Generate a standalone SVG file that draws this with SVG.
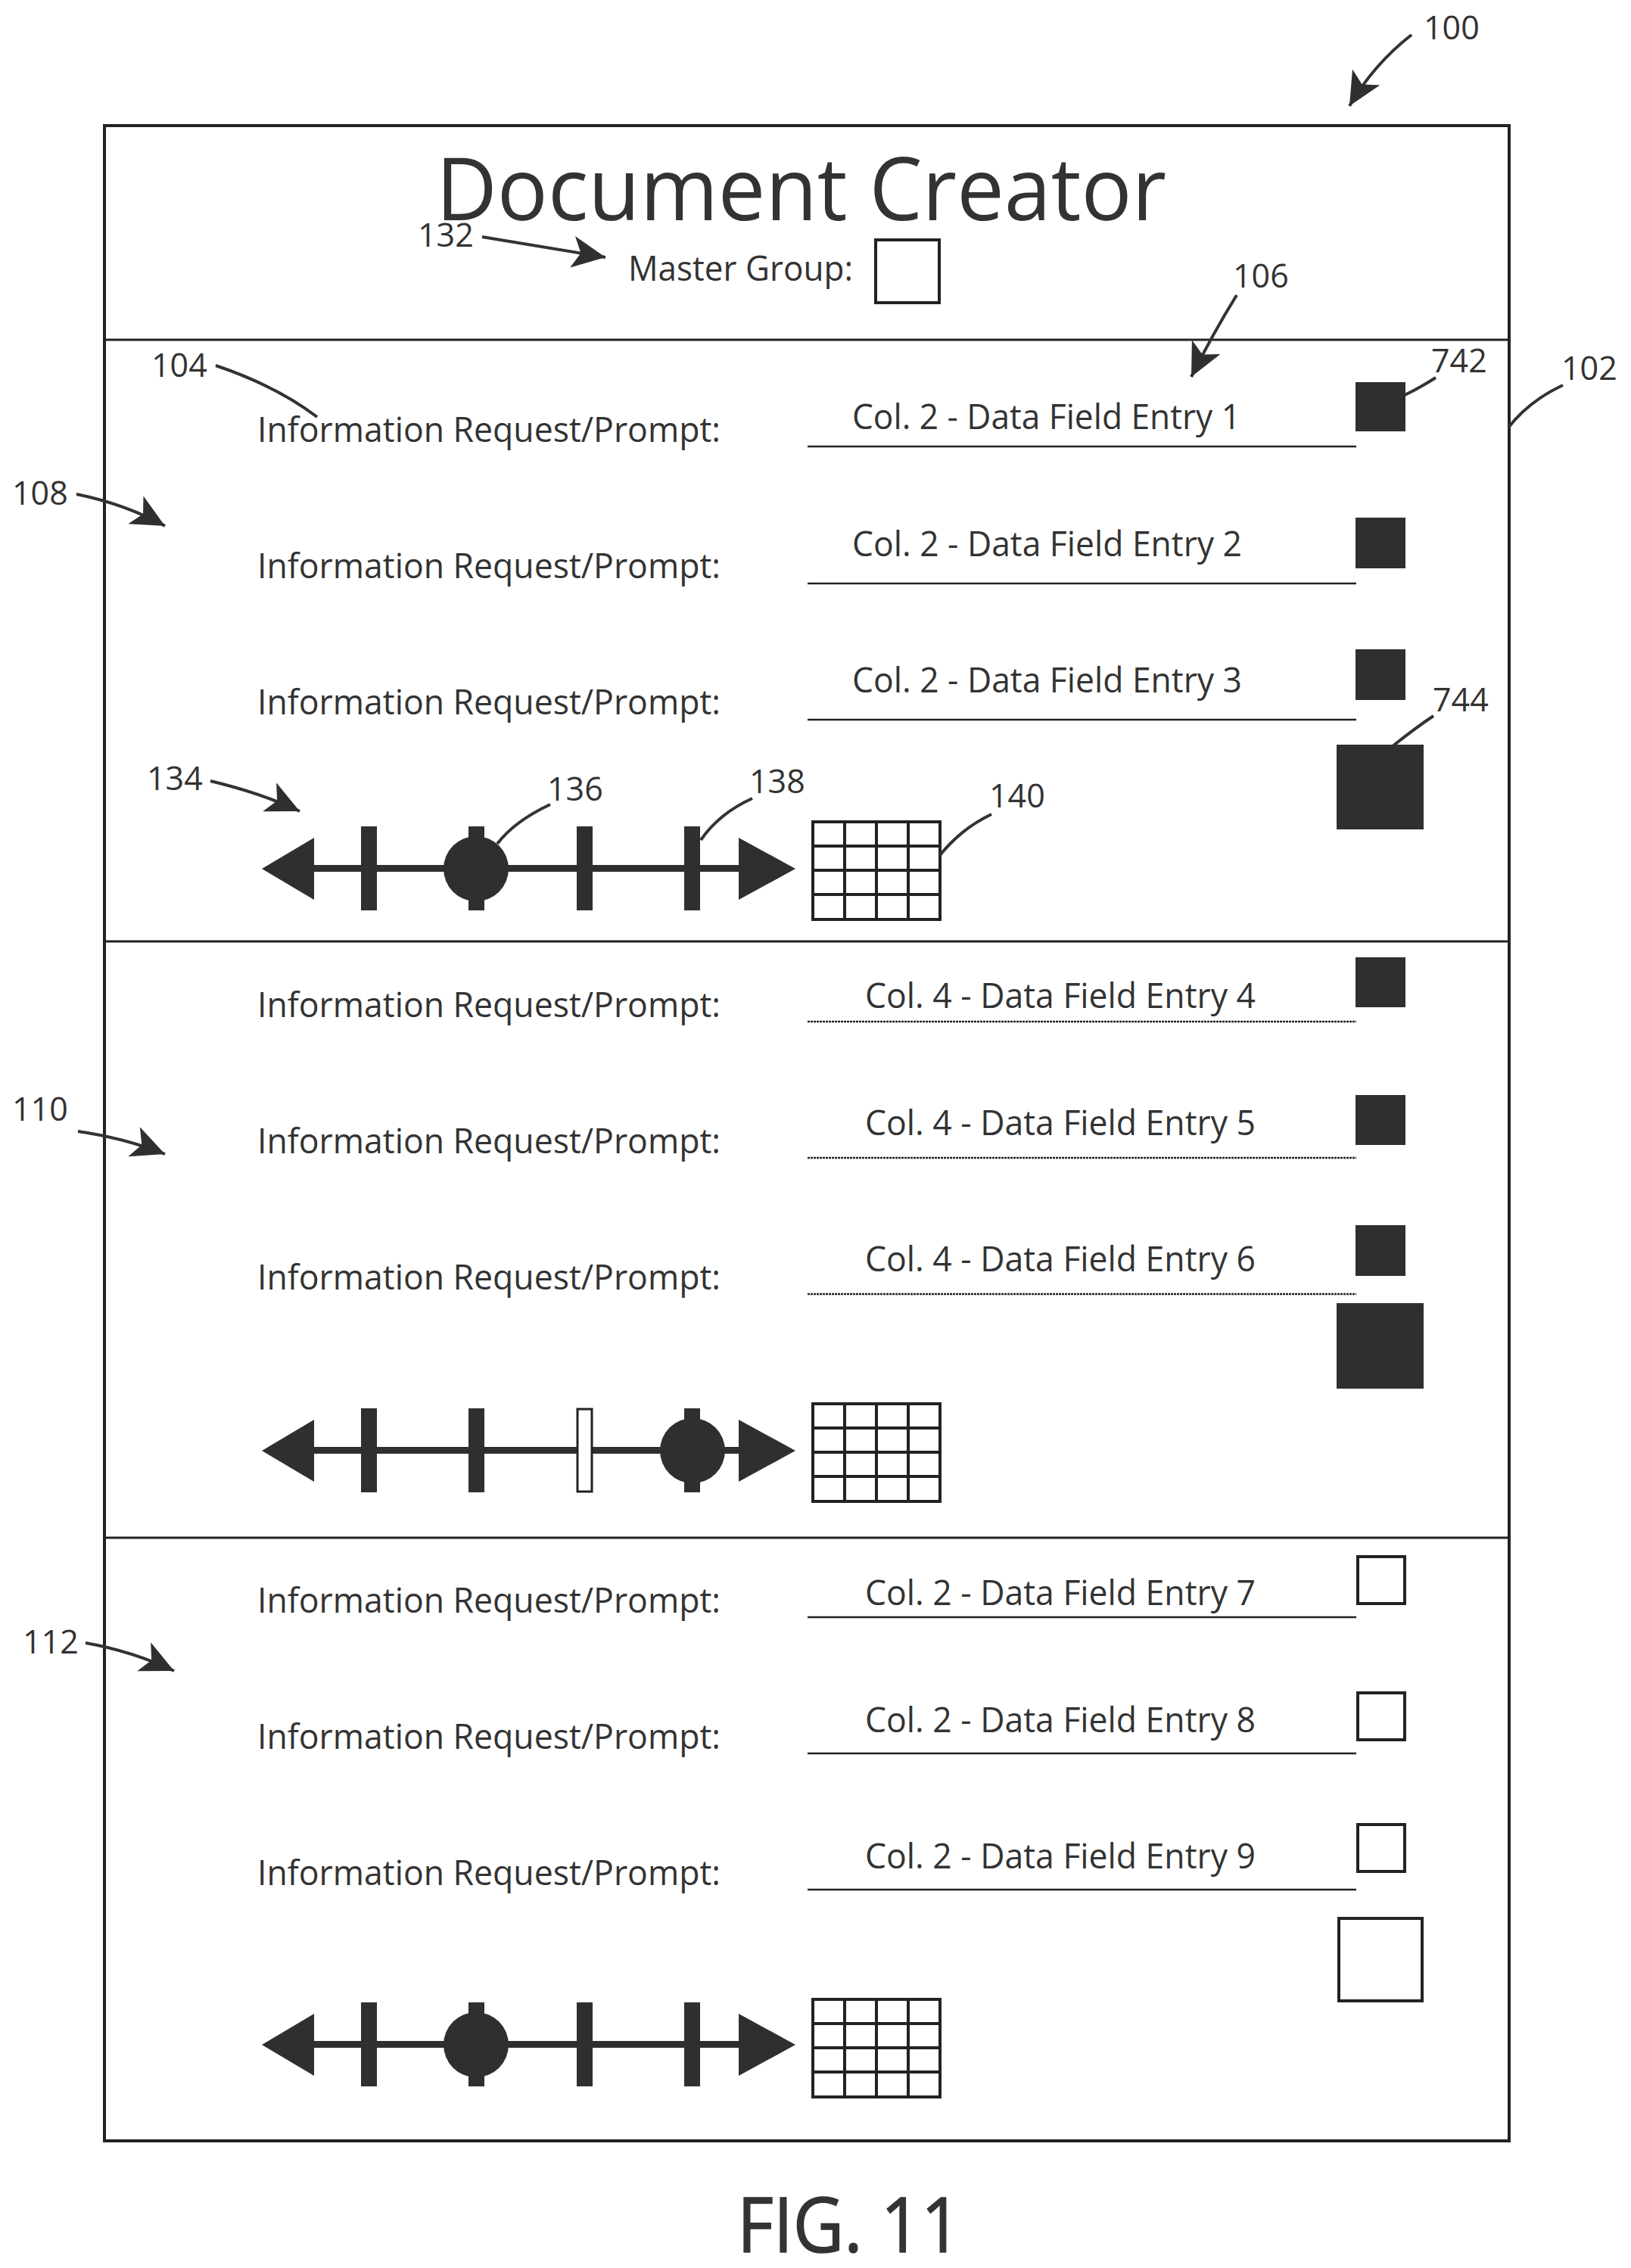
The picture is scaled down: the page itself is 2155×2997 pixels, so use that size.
<svg xmlns="http://www.w3.org/2000/svg" xmlns:xlink="http://www.w3.org/1999/xlink" width="2155" height="2997" viewBox="0 0 2155 2997">
<style>
text{font-family:"Open Sans","Liberation Sans",sans-serif;fill:#333}
.p,.c{font-size:45px}
.n{font-size:43px}
.b{fill:#fff;stroke:#222;stroke-width:4}
.s{fill:#2f2f2f}
.w{fill:#fff;stroke:#222;stroke-width:3}
.l{fill:none;stroke:#222;stroke-width:2.5}
.h{fill:none;stroke:#222;stroke-width:3}
.g{fill:none;stroke:#222;stroke-width:4}
.ld{fill:none;stroke:#333;stroke-width:4}
.ar{fill:none;stroke:#333;stroke-width:4;marker-end:url(#ah)}
</style>
<defs>
<marker id="ah" markerUnits="userSpaceOnUse" markerWidth="46" markerHeight="46" viewBox="0 0 46 46" refX="44" refY="23" orient="auto"><polygon points="44,23 0,2 11,23 0,44" fill="#2f2f2f"/></marker>
<g id="arrows">
<rect x="400" y="-5" width="600" height="9" class="s"/>
<polygon points="346,0 415,-41 415,41" class="s"/>
<polygon points="1051,0 976,-41 976,41" class="s"/>
</g>
<g id="grid">
<rect x="1075" y="-62" width="168" height="129" class="g"/>
<path d="M1117,-62V67M1159,-62V67M1201,-62V67M1075,-30H1243M1075,2H1243M1075,34H1243" class="g"/>
</g>
</defs>
<rect width="2155" height="2997" fill="#fff"/>

<g id="frame">
<rect x="138" y="166" width="1856" height="2663" class="b" fill="none"/>
<path d="M138,449H1994M138,1244H1994M138,2032H1994" class="h"/>
</g>

<g id="title">
<text x="576" y="291" font-size="116" textLength="965" lengthAdjust="spacingAndGlyphs">Document Creator</text>
</g>
<g id="master-group">
<text class="p" x="830" y="371" textLength="297" lengthAdjust="spacingAndGlyphs">Master Group:</text>
<rect x="1157" y="317" width="84" height="83" class="b"/>
</g>

<g id="section-108">
<g id="row-1"><text class="p" x="340" y="584" textLength="612" lengthAdjust="spacingAndGlyphs">Information Request/Prompt:</text><text class="c" x="1126" y="567" textLength="513" lengthAdjust="spacingAndGlyphs">Col. 2 - Data Field Entry 1</text><path class="l" d="M1067,590H1792"/><rect class="s" x="1791" y="505" width="66" height="65"/></g>
<g id="row-2"><text class="p" x="340" y="764" textLength="612" lengthAdjust="spacingAndGlyphs">Information Request/Prompt:</text><text class="c" x="1126" y="735" textLength="515" lengthAdjust="spacingAndGlyphs">Col. 2 - Data Field Entry 2</text><path class="l" d="M1067,771H1792"/><rect class="s" x="1791" y="684" width="66" height="67"/></g>
<g id="row-3"><text class="p" x="340" y="944" textLength="612" lengthAdjust="spacingAndGlyphs">Information Request/Prompt:</text><text class="c" x="1126" y="915" textLength="515" lengthAdjust="spacingAndGlyphs">Col. 2 - Data Field Entry 3</text><path class="l" d="M1067,951H1792"/><rect class="s" x="1791" y="858" width="66" height="67"/></g>
<rect id="big-1" class="s" x="1766" y="984" width="115" height="112"/>
<g id="slider-1" transform="translate(0,1148)">
<use href="#arrows" xlink:href="#arrows"/>
<rect class="s" x="477" y="-56" width="21" height="111"/><rect class="s" x="619" y="-56" width="21" height="111"/><rect class="s" x="762" y="-56" width="21" height="111"/><rect class="s" x="904" y="-56" width="21" height="111"/>
<ellipse class="s" cx="629" cy="0" rx="43" ry="43"/>
</g>
<use id="grid-1" href="#grid" xlink:href="#grid" transform="translate(-1,1148)"/>
</g>

<g id="section-110">
<g id="row-4"><text class="p" x="340" y="1344" textLength="612" lengthAdjust="spacingAndGlyphs">Information Request/Prompt:</text><text class="c" x="1143" y="1332" textLength="516" lengthAdjust="spacingAndGlyphs">Col. 4 - Data Field Entry 4</text><path class="l" d="M1067,1350H1792" stroke-dasharray="3 1"/><rect class="s" x="1791" y="1265" width="66" height="66"/></g>
<g id="row-5"><text class="p" x="340" y="1524" textLength="612" lengthAdjust="spacingAndGlyphs">Information Request/Prompt:</text><text class="c" x="1143" y="1500" textLength="516" lengthAdjust="spacingAndGlyphs">Col. 4 - Data Field Entry 5</text><path class="l" d="M1067,1530H1792" stroke-dasharray="3 1"/><rect class="s" x="1791" y="1447" width="66" height="66"/></g>
<g id="row-6"><text class="p" x="340" y="1704" textLength="612" lengthAdjust="spacingAndGlyphs">Information Request/Prompt:</text><text class="c" x="1143" y="1680" textLength="516" lengthAdjust="spacingAndGlyphs">Col. 4 - Data Field Entry 6</text><path class="l" d="M1067,1710H1792" stroke-dasharray="3 1"/><rect class="s" x="1791" y="1619" width="66" height="67"/></g>
<rect id="big-2" class="s" x="1766" y="1722" width="115" height="113"/>
<g id="slider-2" transform="translate(0,1917)">
<use href="#arrows" xlink:href="#arrows"/>
<rect class="s" x="477" y="-56" width="21" height="111"/><rect class="s" x="619" y="-56" width="21" height="111"/><rect class="w" x="763" y="-55" width="19" height="109"/><rect class="s" x="904" y="-56" width="21" height="111"/>
<ellipse class="s" cx="915" cy="0" rx="43" ry="43"/>
</g>
<use id="grid-2" href="#grid" xlink:href="#grid" transform="translate(-1,1917)"/>
</g>

<g id="section-112">
<g id="row-7"><text class="p" x="340" y="2131" textLength="612" lengthAdjust="spacingAndGlyphs">Information Request/Prompt:</text><text class="c" x="1143" y="2121" textLength="516" lengthAdjust="spacingAndGlyphs">Col. 2 - Data Field Entry 7</text><path class="l" d="M1067,2137H1792"/><rect class="b" x="1794" y="2057" width="62" height="62"/></g>
<g id="row-8"><text class="p" x="340" y="2311" textLength="612" lengthAdjust="spacingAndGlyphs">Information Request/Prompt:</text><text class="c" x="1143" y="2289" textLength="516" lengthAdjust="spacingAndGlyphs">Col. 2 - Data Field Entry 8</text><path class="l" d="M1067,2317H1792"/><rect class="b" x="1794" y="2237" width="62" height="62"/></g>
<g id="row-9"><text class="p" x="340" y="2491" textLength="612" lengthAdjust="spacingAndGlyphs">Information Request/Prompt:</text><text class="c" x="1143" y="2469" textLength="516" lengthAdjust="spacingAndGlyphs">Col. 2 - Data Field Entry 9</text><path class="l" d="M1067,2497H1792"/><rect class="b" x="1794" y="2411" width="62" height="62"/></g>
<rect id="big-3" class="b" x="1769" y="2535" width="110" height="109"/>
<g id="slider-3" transform="translate(0,2702)">
<use href="#arrows" xlink:href="#arrows"/>
<rect class="s" x="477" y="-56" width="21" height="111"/><rect class="s" x="619" y="-56" width="21" height="111"/><rect class="s" x="762" y="-56" width="21" height="111"/><rect class="s" x="904" y="-56" width="21" height="111"/>
<ellipse class="s" cx="629" cy="0" rx="43" ry="43"/>
</g>
<use id="grid-3" href="#grid" xlink:href="#grid" transform="translate(-1,2704)"/>
</g>

<g id="labels">
<text class="n" x="1881" y="52">100</text>
<text class="n" x="2063" y="502">102</text>
<text class="n" x="200" y="498">104</text>
<text class="n" x="1629" y="380">106</text>
<text class="n" x="16" y="667">108</text>
<text class="n" x="16" y="1481">110</text>
<text class="n" x="30" y="2185">112</text>
<text class="n" x="552" y="326">132</text>
<text class="n" x="194" y="1044">134</text>
<text class="n" x="723" y="1058">136</text>
<text class="n" x="990" y="1048">138</text>
<text class="n" x="1307" y="1067">140</text>
<text class="n" x="1891" y="492">742</text>
<text class="n" x="1893" y="940">744</text>
<text id="fig" x="974" y="2976" font-size="100" textLength="296" lengthAdjust="spacingAndGlyphs" stroke="#333" stroke-width="1.5">FIG. 11</text>
</g>

<g id="connectors">
<path class="ar" d="M1865,46Q1815,85 1783,140"/>
<path class="ar" d="M1634,390Q1603,440 1574,498"/>
<path class="ar" d="M637,313L800,340"/>
<path class="ar" d="M101,653Q165,666 218,695"/>
<path class="ar" d="M103,1495Q165,1504 218,1525"/>
<path class="ar" d="M113,2171Q175,2182 230,2208"/>
<path class="ar" d="M278,1032Q345,1048 396,1072"/>
<path class="ld" d="M285,483Q365,510 419,551"/>
<path class="ld" d="M1897,499Q1875,513 1856,522"/>
<path class="ld" d="M2065,509Q2020,530 1993,565"/>
<path class="ld" d="M1894,946Q1870,962 1840,986"/>
<path class="ld" d="M727,1063Q680,1085 657,1115"/>
<path class="ld" d="M994,1055Q950,1075 926,1110"/>
<path class="ld" d="M1310,1076Q1270,1095 1242,1130"/>
</g>
</svg>
